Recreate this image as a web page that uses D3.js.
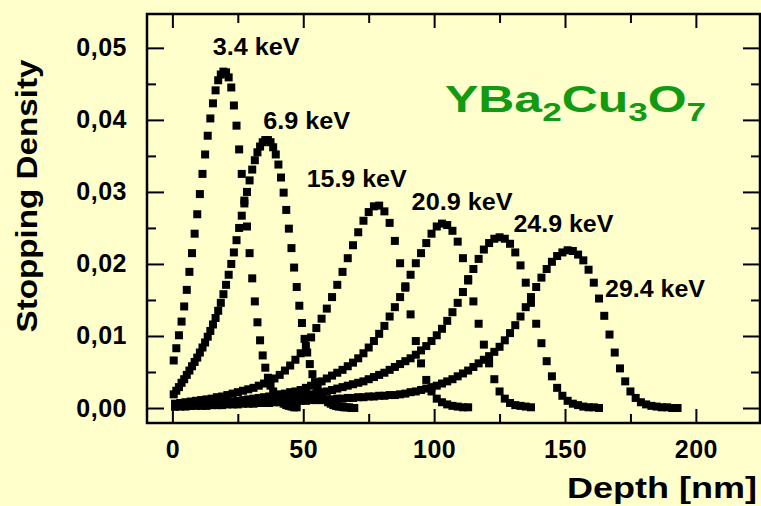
<!DOCTYPE html>
<html>
<head>
<meta charset="utf-8">
<script src="https://cdn.jsdelivr.net/npm/d3@7"></script>
<style>
	html, body { margin: 0; padding: 0; background: #ffffcc; }
	#chart { width: 761px; height: 506px; }
	text { font-family: "Liberation Sans", Arial, sans-serif; font-weight: bold; }
</style>
</head>
<body>
<div id="chart"></div>
<script>
// 에너지별 정지 밀도 (첫 bin 중심, bin 폭, 값)
const energies = ["3.4 keV", "6.9 keV", "15.9 keV", "20.9 keV", "24.9 keV", "29.4 keV"];
const binStart = [0.5, 0.5, 1, 1, 1, 1];
const binWidth = [1, 1, 2, 2, 2, 2];

const dens3_4 = [
	0.0066, 0.0083, 0.0101, 0.0120, 0.0141, 0.0164, 0.0189, 0.0215, 0.0242, 0.0269,
	0.0297, 0.0325, 0.0352, 0.0378, 0.0402, 0.0423, 0.0441, 0.0455, 0.0463, 0.0467,
	0.0466, 0.0459, 0.0445, 0.0420, 0.0392, 0.0359, 0.0325, 0.0288, 0.0252, 0.0215,
	0.0180, 0.0148, 0.0119, 0.0094, 0.0073, 0.0056, 0.0042, 0.0031, 0.0023, 0.0017,
	0.0012, 0.0009, 0.0006, 0.0004, 0.0003, 0.0002, 0.0001, 0.0001
];
const dens6_9 = [
	0.0019, 0.0024, 0.0029, 0.0035, 0.0040, 0.0046, 0.0052, 0.0058, 0.0064, 0.0070,
	0.0077, 0.0084, 0.0091, 0.0099, 0.0107, 0.0116, 0.0125, 0.0135, 0.0146, 0.0158,
	0.0171, 0.0185, 0.0200, 0.0216, 0.0233, 0.0250, 0.0267, 0.0284, 0.0300, 0.0316,
	0.0331, 0.0344, 0.0355, 0.0363, 0.0369, 0.0372, 0.0372, 0.0369, 0.0362, 0.0352,
	0.0338, 0.0320, 0.0299, 0.0275, 0.0249, 0.0222, 0.0195, 0.0168, 0.0142, 0.0118,
	0.0096, 0.0077, 0.0061, 0.0047, 0.0036, 0.0027, 0.0020, 0.0015, 0.0011, 0.0008,
	0.0006, 0.0004, 0.0003, 0.0002, 0.0002, 0.0001, 0.0001, 0.0001, 0.0000, 0.0000
];
const dens15_9 = [
	0.0006, 0.0007, 0.0008, 0.0009, 0.0010, 0.0011, 0.0012, 0.0013, 0.0015, 0.0016,
	0.0018, 0.0020, 0.0022, 0.0024, 0.0026, 0.0028, 0.0031, 0.0034, 0.0037, 0.0041,
	0.0046, 0.0052, 0.0059, 0.0067, 0.0076, 0.0086, 0.0098, 0.0111, 0.0124, 0.0138,
	0.0154, 0.0171, 0.0189, 0.0208, 0.0226, 0.0244, 0.0260, 0.0272, 0.0280, 0.0281,
	0.0273, 0.0257, 0.0232, 0.0201, 0.0167, 0.0130, 0.0093, 0.0062, 0.0039, 0.0023,
	0.0013, 0.0008, 0.0005, 0.0003, 0.0002, 0.0001, 0.0001
];
const dens20_9 = [
	0.0003, 0.0003, 0.0004, 0.0004, 0.0005, 0.0005, 0.0006, 0.0006, 0.0007, 0.0008,
	0.0008, 0.0009, 0.0010, 0.0011, 0.0012, 0.0013, 0.0014, 0.0015, 0.0016, 0.0018,
	0.0019, 0.0020, 0.0022, 0.0023, 0.0025, 0.0028, 0.0031, 0.0034, 0.0037, 0.0041,
	0.0045, 0.0049, 0.0053, 0.0058, 0.0063, 0.0069, 0.0076, 0.0084, 0.0093, 0.0103,
	0.0114, 0.0127, 0.0140, 0.0154, 0.0169, 0.0185, 0.0201, 0.0215, 0.0229, 0.0242,
	0.0252, 0.0256, 0.0254, 0.0246, 0.0231, 0.0208, 0.0179, 0.0148, 0.0117, 0.0088,
	0.0062, 0.0040, 0.0023, 0.0013, 0.0007, 0.0004, 0.0003, 0.0002, 0.0001
];
const dens24_9 = [
	0.0002, 0.0003, 0.0003, 0.0003, 0.0004, 0.0004, 0.0004, 0.0005, 0.0005, 0.0006,
	0.0006, 0.0007, 0.0007, 0.0008, 0.0008, 0.0009, 0.0010, 0.0010, 0.0011, 0.0012,
	0.0013, 0.0014, 0.0015, 0.0016, 0.0017, 0.0018, 0.0019, 0.0020, 0.0022, 0.0023,
	0.0025, 0.0027, 0.0029, 0.0031, 0.0033, 0.0035, 0.0037, 0.0040, 0.0043, 0.0046,
	0.0049, 0.0053, 0.0057, 0.0061, 0.0065, 0.0069, 0.0074, 0.0080, 0.0086, 0.0093,
	0.0101, 0.0110, 0.0121, 0.0133, 0.0146, 0.0161, 0.0177, 0.0193, 0.0207, 0.0220,
	0.0229, 0.0235, 0.0237, 0.0235, 0.0228, 0.0216, 0.0198, 0.0174, 0.0146, 0.0117,
	0.0090, 0.0065, 0.0044, 0.0028, 0.0017, 0.0010, 0.0006, 0.0004, 0.0002, 0.0001,
	0.0001, 0.0000
];
const dens29_4 = [
	0.0002, 0.0002, 0.0002, 0.0003, 0.0003, 0.0003, 0.0003, 0.0004, 0.0004, 0.0004,
	0.0005, 0.0005, 0.0005, 0.0006, 0.0006, 0.0006, 0.0007, 0.0007, 0.0007, 0.0008,
	0.0008, 0.0009, 0.0009, 0.0009, 0.0010, 0.0010, 0.0011, 0.0011, 0.0011, 0.0012,
	0.0012, 0.0013, 0.0013, 0.0014, 0.0014, 0.0015, 0.0015, 0.0016, 0.0016, 0.0017,
	0.0017, 0.0018, 0.0018, 0.0019, 0.0020, 0.0022, 0.0023, 0.0025, 0.0027, 0.0029,
	0.0031, 0.0034, 0.0037, 0.0040, 0.0044, 0.0048, 0.0052, 0.0057, 0.0062, 0.0067,
	0.0072, 0.0078, 0.0085, 0.0094, 0.0104, 0.0115, 0.0127, 0.0140, 0.0154, 0.0168,
	0.0181, 0.0193, 0.0203, 0.0211, 0.0216, 0.0219, 0.0218, 0.0213, 0.0205, 0.0192,
	0.0174, 0.0152, 0.0128, 0.0102, 0.0077, 0.0055, 0.0037, 0.0023, 0.0014, 0.0008,
	0.0005, 0.0003, 0.0002, 0.0001, 0.0001, 0.0000, 0.0000
];
const densities = [dens3_4, dens6_9, dens15_9, dens20_9, dens24_9, dens29_4];

// 축 눈금
const xMajorTicks = [0, 50, 100, 150, 200];
const xMinorTicks = [25, 75, 125, 175, 225];
const yMajorTicks = [0, 0.01, 0.02, 0.03, 0.04, 0.05];
const yMinorTicks = [0.005, 0.015, 0.025, 0.035, 0.045];

const W = 761, H = 506;
const frame = {left: 147, right: 760, top: 14, bottom: 423};

const svg = d3.select("#chart").append("svg")
	.attr("width", W)
	.attr("height", H);

svg.append("rect")
	.attr("width", W)
	.attr("height", H)
	.attr("fill", "#ffffcc");

const x = d3.scaleLinear().domain([-9.7, 224.5]).range([frame.left, frame.right]);
const y = d3.scaleLinear().domain([-0.00208, 0.0547]).range([frame.bottom, frame.top]);

// 데이터 점 (사각형 마커)
const points = [];
densities.forEach((vals, s) => {
	vals.forEach((v, i) => {
		points.push({depth: binStart[s] + i * binWidth[s], value: v, series: energies[s]});
	});
});

const mk = 8;
svg.append("g")
	.selectAll("rect")
	.data(points)
	.join("rect")
	.attr("x", d => x(d.depth) - mk / 2)
	.attr("y", d => y(d.value) - mk / 2)
	.attr("width", mk)
	.attr("height", mk)
	.attr("fill", "#000");

// 축: 안쪽으로 향하는 눈금
const commaFmt = d => d3.format(".2f")(d).replace(".", ",");

function drawAxis(axis, tr, cls) {
	const g = svg.append("g")
		.attr("class", cls)
		.attr("transform", tr)
		.call(axis);
	g.select(".domain").remove();
	g.selectAll("line").attr("stroke", "#000").attr("stroke-width", 2);
	g.selectAll("text")
		.attr("fill", "#000")
		.style("font-size", "25px")
		.style("letter-spacing", "0.5px")
		.style("font-family", "'Liberation Sans', Arial, sans-serif")
		.style("font-weight", "bold");
	return g;
}

// 아래
drawAxis(d3.axisBottom(x).tickValues(xMajorTicks).tickSizeInner(-14).tickSizeOuter(0).tickPadding(17).tickFormat(d3.format("d")),
	`translate(0,${frame.bottom})`, "x-axis");
drawAxis(d3.axisBottom(x).tickValues(xMinorTicks).tickSizeInner(-9).tickSizeOuter(0).tickFormat(""),
	`translate(0,${frame.bottom})`, "x-minor");
// 위
drawAxis(d3.axisTop(x).tickValues(xMajorTicks).tickSizeInner(-14).tickSizeOuter(0).tickFormat(""),
	`translate(0,${frame.top})`, "x-top");
drawAxis(d3.axisTop(x).tickValues(xMinorTicks).tickSizeInner(-9).tickSizeOuter(0).tickFormat(""),
	`translate(0,${frame.top})`, "x-top-minor");
// 왼쪽
drawAxis(d3.axisLeft(y).tickValues(yMajorTicks).tickSizeInner(-17).tickSizeOuter(0).tickPadding(20).tickFormat(commaFmt),
	`translate(${frame.left},0)`, "y-axis");
drawAxis(d3.axisLeft(y).tickValues(yMinorTicks).tickSizeInner(-9).tickSizeOuter(0).tickFormat(""),
	`translate(${frame.left},0)`, "y-minor");
// 오른쪽
drawAxis(d3.axisRight(y).tickValues(yMajorTicks).tickSizeInner(-17).tickSizeOuter(0).tickFormat(""),
	`translate(${frame.right},0)`, "y-right");
drawAxis(d3.axisRight(y).tickValues(yMinorTicks).tickSizeInner(-9).tickSizeOuter(0).tickFormat(""),
	`translate(${frame.right},0)`, "y-right-minor");

// 테두리
svg.append("rect")
	.attr("x", frame.left)
	.attr("y", frame.top)
	.attr("width", frame.right - frame.left)
	.attr("height", frame.bottom - frame.top)
	.attr("fill", "none")
	.attr("stroke", "#000")
	.attr("stroke-width", 2.5);

// 에너지 라벨 (좌측 하단 기준 데이터 좌표)
const labelPos = [[15.4, 0.0490], [34.7, 0.0388], [51.3, 0.0307], [91.4, 0.0275], [130.3, 0.0245], [165.3, 0.0154]];
const labelLen = [87, 87, 100, 101, 100, 100];
svg.append("g")
	.selectAll("text")
	.data(energies)
	.join("text")
	.attr("x", (d, i) => x(labelPos[i][0]))
	.attr("y", (d, i) => y(labelPos[i][1]))
	.attr("textLength", (d, i) => labelLen[i])
	.attr("lengthAdjust", "spacingAndGlyphs")
	.style("font-size", "23px")
	.attr("fill", "#000")
	.text(d => d);

// 화학식 (가로로 약간 늘림)
const formula = svg.append("text")
	.attr("transform", "translate(445,112) scale(1.35,1)")
	.attr("fill", "#129a12")
	.style("font-size", "37px");
[["YBa", 0], ["2", 1], ["Cu", 0], ["3", 1], ["O", 0], ["7", 1]].forEach(([t, sub], i, arr) => {
	const prevSub = i > 0 ? arr[i - 1][1] : 0;
	formula.append("tspan")
		.attr("dy", sub ? 9 : (prevSub ? -9 : 0))
		.style("font-size", sub ? "26px" : "37px")
		.text(t);
});

// 축 제목
svg.append("text")
	.attr("transform", "translate(37,196) rotate(-90)")
	.attr("text-anchor", "middle")
	.attr("textLength", 273)
	.attr("lengthAdjust", "spacingAndGlyphs")
	.style("font-size", "29px")
	.attr("fill", "#000")
	.text("Stopping Density");

svg.append("text")
	.attr("x", 757)
	.attr("y", 498)
	.attr("text-anchor", "end")
	.attr("textLength", 190)
	.attr("lengthAdjust", "spacingAndGlyphs")
	.style("font-size", "29px")
	.attr("fill", "#000")
	.text("Depth [nm]");
</script>
</body>
</html>
